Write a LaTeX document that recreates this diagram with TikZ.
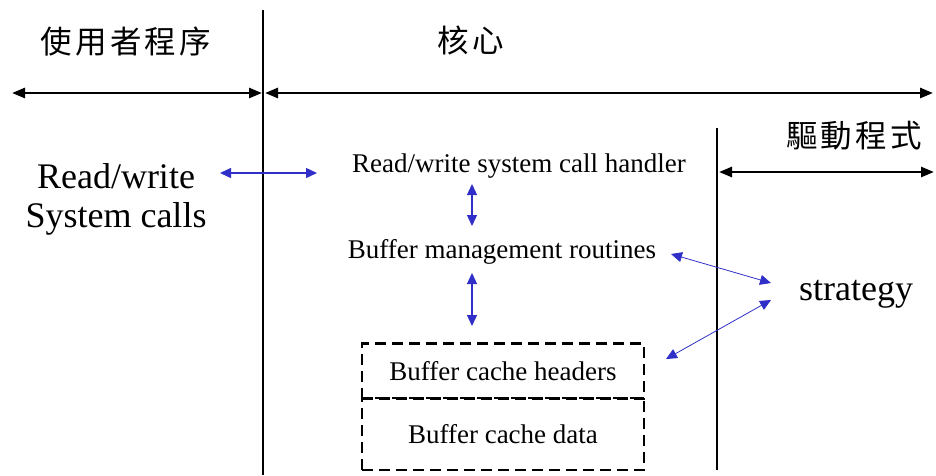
\documentclass[tikz,border=0pt]{standalone}
\usepackage{fontspec}
\setmainfont{Liberation Serif}
\newfontfamily\cjk[LetterSpace=10]{Noto Sans CJK TC}
\usetikzlibrary{arrows.meta}
\definecolor{linkblue}{RGB}{48,48,200}
\tikzset{
  rangearrow/.style={line width=2.6pt, {Triangle[length=13pt,width=10pt]}-{Triangle[length=13pt,width=10pt]}},
  linkarrow/.style={linkblue, line width=1.3pt, {Triangle[length=11pt,width=10pt]}-{Triangle[length=11pt,width=10pt]}},
  thinarrow/.style={linkblue, line width=0.8pt, {Triangle[length=11pt,width=10pt]}-{Triangle[length=11pt,width=10pt]}},
  divider/.style={line width=1.2pt},
  thickdivider/.style={line width=2.8pt},
  region/.style={font=\cjk\fontsize{31.5}{34}\selectfont, inner sep=0pt},
  bigtext/.style={font=\fontsize{36}{39}\selectfont, inner sep=0pt, align=center},
  midtext/.style={font=\fontsize{27}{30}\selectfont, inner sep=0pt},
  cachebox/.style={draw, dashed, line width=2.2pt, dash pattern=on 11pt off 6pt, minimum width=282pt, inner sep=0pt},
}
\begin{document}
\begin{tikzpicture}[x=1pt,y=-1pt]
\useasboundingbox (0,0) rectangle (936,475);

% region boundaries
\coordinate (uk_top) at (263,10);
\coordinate (uk_bot) at (263,475);
\draw[divider] (uk_top) -- (uk_bot);
\coordinate (kd_top) at (717,128);
\coordinate (kd_bot) at (717,470);
\draw[thickdivider] (kd_top) -- (kd_bot);

% region titles
\node[region] (user) at (126,42) {使用者程序};
\node[region] (kernel) at (471,40) {核心};
\node[region] (driver) at (854,136) {驅動程式};

% region extents
\coordinate (u_l) at (12,93);
\coordinate (u_r) at (262,93);
\coordinate (k_l) at (265,93);
\coordinate (k_r) at (933,93);
\coordinate (d_l) at (719,172);
\coordinate (d_r) at (934,172);
\draw[rangearrow] (u_l) -- (u_r);
\draw[rangearrow] (k_l) -- (k_r);
\draw[rangearrow] (d_l) -- (d_r);

% text blocks
\node[bigtext] (calls) at (116,199) {Read/write\\System calls};
\node[midtext] (handler) at (519,166) {Read/write system call handler};
\node[midtext] (bufmgmt) at (502,252) {Buffer management routines};
\node[bigtext] (strategy) at (856,294) {strategy};

% buffer cache
\node[cachebox, minimum height=55pt] (headers) at (503,371) {\fontsize{27}{30}\selectfont Buffer cache headers};
\node[cachebox, minimum height=72pt] (data) at (503,434) {\fontsize{27}{30}\selectfont Buffer cache data};

% interactions
\coordinate (c1) at (220,173);
\coordinate (c2) at (317,173);
\draw[linkarrow] (c1) -- (c2);
\coordinate (h1) at (472,184);
\coordinate (h2) at (472,226);
\draw[linkarrow] (h1) -- (h2);
\coordinate (b1) at (472,273);
\coordinate (b2) at (472,326);
\draw[linkarrow] (b1) -- (b2);
\coordinate (s1) at (671,254);
\coordinate (s2) at (771,283);
\draw[thinarrow] (s1) -- (s2);
\coordinate (s3) at (771,300);
\coordinate (s4) at (666,359);
\draw[thinarrow] (s3) -- (s4);
\end{tikzpicture}
\end{document}
